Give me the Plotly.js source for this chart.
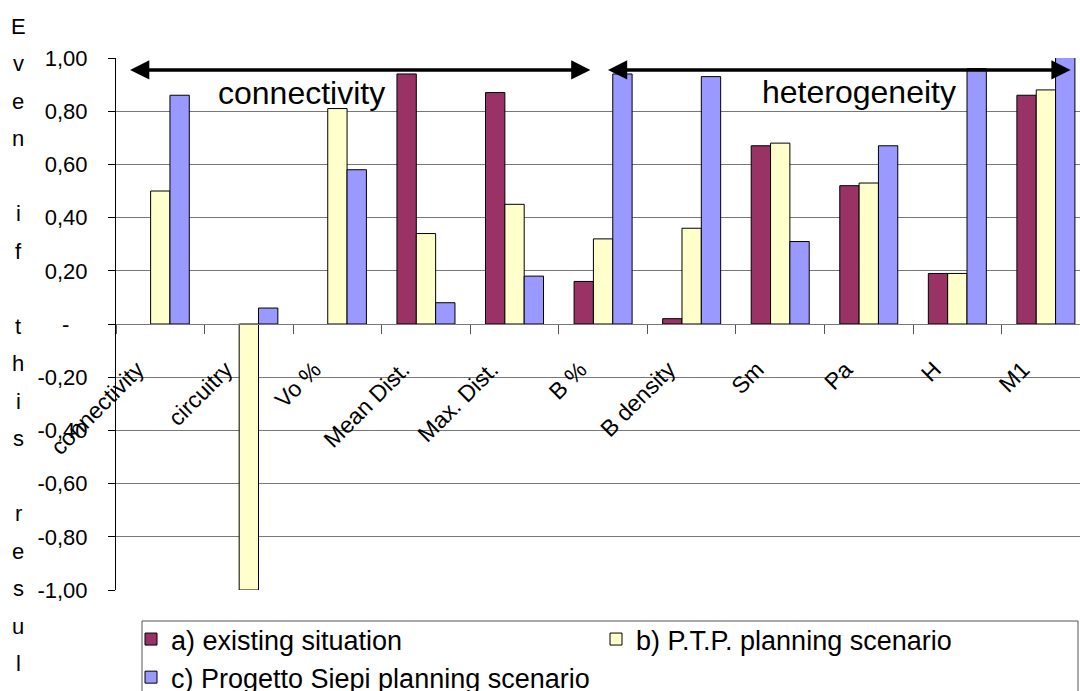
<!DOCTYPE html>
<html>
<head>
<meta charset="utf-8">
<script src="https://cdn.plot.ly/plotly-3.0.1.min.js"></script>
<style>
  html, body { margin: 0; padding: 0; background: #fff; overflow: hidden; }
  #chart { width: 1080px; height: 691px; }
</style>
</head>
<body>
<div id="chart"></div>
<script>
// Indicator categories along the x axis
const categories = ['connectivity', 'circuitry', 'Vo %', 'Mean Dist.', 'Max. Dist.',
                    'B %', 'B density', 'Sm', 'Pa', 'H', 'M1'];

// Series values per scenario
const existingSituation = [null, null, null, 0.94, 0.87, 0.16, 0.02, 0.67, 0.52, 0.19, 0.86];
const ptpScenario       = [0.50, -1.00, 0.81, 0.34, 0.45, 0.32, 0.36, 0.68, 0.53, 0.19, 0.88];
const siepiScenario     = [0.86, 0.06, 0.58, 0.08, 0.18, 0.94, 0.93, 0.31, 0.67, 0.96, 1.01];

const seriesNames = ['a) existing situation', 'b) P.T.P. planning scenario',
                     'c) Progetto Siepi planning scenario'];

// Y tick labels (accounting style, zero shown as a dash)
const yTickVals = [1, 0.8, 0.6, 0.4, 0.2, 0, -0.2, -0.4, -0.6, -0.8, -1];
const yTickText = ['1,00', '0,80', '0,60', '0,40', '0,20', '-\u00a0\u00a0\u00a0',
                   '-0,20', '-0,40', '-0,60', '-0,80', '-1,00'];

// Stacked vertical axis caption
const yCaption = 'Even if this result';

// Group labels with their arrows
const groupLabels = ['connectivity', 'heterogeneity'];

const FONT = 'Liberation Sans, Arial, sans-serif';
const colors = ['#993366', '#FFFFCC', '#9999FF'];
const seriesData = [existingSituation, ptpScenario, siepiScenario];

const traces = seriesData.map((vals, i) => ({
  type: 'bar',
  name: seriesNames[i],
  x: categories,
  y: vals,
  cliponaxis: false,
  marker: { color: colors[i], line: { color: '#000', width: 1 } },
  hoverinfo: 'x+y+name'
}));

// Fixed plot margins (pixels)
const M = { l: 116, r: 0, t: 58, b: 101, autoexpand: false };
const plotH = 691 - M.t - M.b;
const plotW = 1080 - M.l - M.r;

const annotations = [];
let row = 0;
for (const ch of yCaption) {
  if (ch !== ' ') {
    const py = 26 + 37.5 * row;
    annotations.push({
      xref: 'paper', yref: 'paper',
      x: (18 - M.l) / plotW, y: (691 - M.b - py) / plotH,
      xanchor: 'center', yanchor: 'middle',
      text: ch, showarrow: false,
      font: { family: FONT, size: 22, color: '#000' }
    });
  }
  row++;
}

// Double-headed arrows spanning the two indicator groups
const arrowSpans = [[-0.358, 4.857], [5.038, 10.279]];
arrowSpans.forEach(([x0, x1]) => {
  annotations.push({
    xref: 'x', yref: 'y', axref: 'x', ayref: 'y',
    x: x1, y: 0.955, ax: x0, ay: 0.955,
    text: '', showarrow: true,
    arrowhead: 2, startarrowhead: 2, arrowside: 'end+start',
    arrowsize: 1.1, startarrowsize: 1.1, arrowwidth: 3.5, arrowcolor: '#000',
    standoff: 0, startstandoff: 0
  });
});

// Group label texts
const groupLabelPos = [[1.596, 0.868], [7.895, 0.872]];
groupLabels.forEach((t, i) => {
  annotations.push({
    xref: 'x', yref: 'y',
    x: groupLabelPos[i][0], y: groupLabelPos[i][1],
    text: t, showarrow: false,
    xanchor: 'center', yanchor: 'middle',
    font: { family: FONT, size: 32, color: '#000' }
  });
});

const layout = {
  width: 1080, height: 691,
  margin: M,
  paper_bgcolor: '#fff', plot_bgcolor: '#fff',
  font: { family: FONT, size: 22, color: '#000' },
  barmode: 'group',
  bargap: 0.345,
  bargroupgap: 0,
  showlegend: true,
  legend: {
    orientation: 'h',
    x: (131 - M.l) / plotW, xanchor: 'left',
    y: -0.047, yanchor: 'top',
    entrywidth: 420, entrywidthmode: 'pixels',
    font: { family: FONT, size: 27, color: '#000' },
    bgcolor: 'rgba(0,0,0,0)', borderwidth: 0,
    traceorder: 'normal'
  },
  xaxis: {
    type: 'category',
    range: [-0.5, 10.385],
    anchor: 'free', position: 0.5,
    showline: true, linecolor: '#777', linewidth: 1,
    ticks: 'outside', tickson: 'boundaries', ticklen: 9, tickcolor: '#555', tickwidth: 1,
    tickangle: -45,
    tickfont: { family: FONT, size: 23, color: '#000' },
    ticklabelstandoff: 22,
    ticklabelshift: -23,
    showgrid: false, zeroline: false
  },
  yaxis: {
    range: [-1, 1],
    tickvals: yTickVals, ticktext: yTickText,
    showline: true, linecolor: '#000', linewidth: 1,
    ticks: 'outside', ticklen: 7, tickcolor: '#000',
    tickfont: { family: FONT, size: 22, color: '#000' },
    ticklabelstandoff: 16,
    showgrid: true, gridcolor: '#777', gridwidth: 1,
    zeroline: false
  },
  shapes: [{
    type: 'rect', xref: 'paper', yref: 'paper',
    x0: (142 - M.l) / plotW, x1: (1078 - M.l) / plotW,
    y0: (691 - M.b - 621) / plotH, y1: (691 - M.b - 720) / plotH,
    line: { color: '#555', width: 1 }, fillcolor: 'rgba(0,0,0,0)'
  }],
  annotations: annotations
};

Plotly.newPlot('chart', traces, layout, { displayModeBar: false, staticPlot: true });
</script>
</body>
</html>
